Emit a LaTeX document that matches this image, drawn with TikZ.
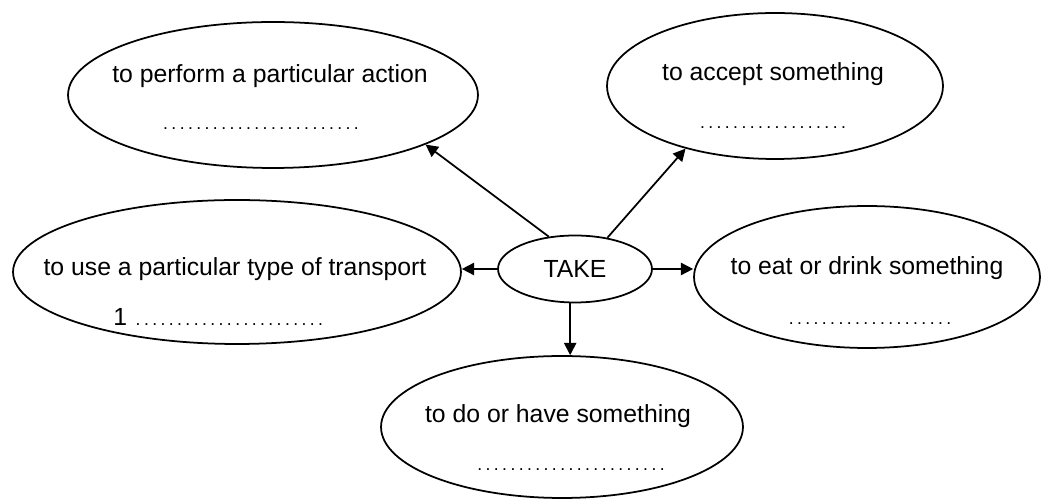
\documentclass[tikz,border=0pt]{standalone}
\usepackage{fontspec}
\setmainfont{Liberation Sans}
\usetikzlibrary{shapes.geometric,arrows.meta}
\tikzset{bubble/.style = {draw, ellipse, line width=1pt, inner sep=0pt},
         hub/.style = {draw, ellipse, line width=1pt, inner sep=0pt, minimum width=3.08cm, minimum height=1.34cm,
                       font=\fontsize{14.1}{17}\selectfont},
         txt/.style = {anchor=base, inner sep=0pt, font=\fontsize{14.1}{17}\selectfont},
         link/.style = {-{Triangle[length=7pt,width=7pt]}, line width=1pt}}
\newcommand{\dotrow}[1]{\foreach \k in {1,...,#1}{\makebox[4.72pt]{\fontsize{10}{12}\selectfont .}}}

\begin{document}
\begin{tikzpicture}[x=0.02cm,y=-0.02cm]
        \useasboundingbox (0,0) rectangle (1046,499);
        % outer bubbles
        \node[bubble, minimum width=8.2cm, minimum height=2.92cm](perform)at(273,95){};
        \node[bubble, minimum width=6.72cm, minimum height=2.92cm](accept)at(775,86){};
        \node[bubble, minimum width=8.96cm, minimum height=2.88cm](transport)at(237,272){};
        \node[bubble, minimum width=6.92cm, minimum height=2.84cm](eat)at(867,277){};
        \node[bubble, minimum width=7.24cm, minimum height=2.84cm](do)at(562,427){};
        \node[hub](take)at(575,269){TAKE};

        % texts
        \node[txt](perform-txt)at(270,83){to perform a particular action};
        \node[txt](perform-gap)at(261,130){\dotrow{24}};
        \node[txt](accept-txt)at(773,81){to accept something};
        \node[txt](accept-gap)at(773,129){\dotrow{18}};
        \node[txt](transport-txt)at(235,276){to use a particular type of transport};
        \node[txt, anchor=base west](transport-gap)at(113,326){1 \dotrow{23}};
        \node[txt](eat-txt)at(867,275){to eat or drink something};
        \node[txt](eat-gap)at(870,325){\dotrow{20}};
        \node[txt](do-txt)at(558,423){to do or have something};
        \node[txt](do-gap)at(571,471){\dotrow{23}};

        % arrows
        \draw[link](take.129)--(perform.-18);
        \draw[link](take.44)--(accept.215);
        \draw[link](take.west)--(take.west -| transport.east);
        \draw[link](take.east)--(take.east -| eat.west);
        \draw[link](take.262)--(take.262 |- do.north);
\end{tikzpicture}
\end{document}
